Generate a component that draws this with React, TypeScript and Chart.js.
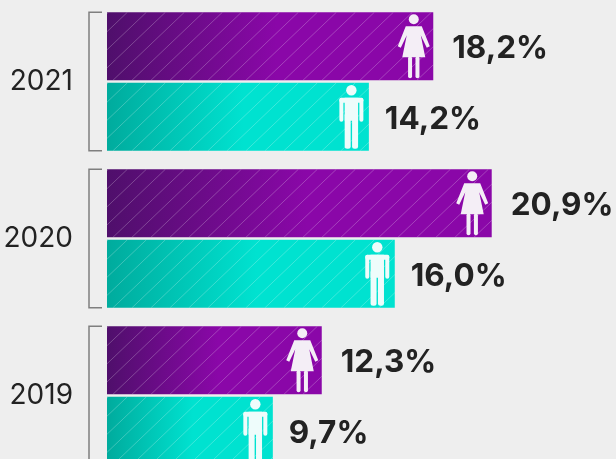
import React, { useEffect, useRef } from "react";
import { Chart, registerables } from "chart.js";

Chart.register(...registerables);

const years = ["2021", "2020", "2019"];
// The picture's bars are not strictly proportional to their printed labels,
// so bar lengths are read from the picture and the printed labels kept apart.
const womenBars = [18.14, 21.39, 11.94];
const menBars = [14.56, 16.0, 9.22];
const womenLabels = ["18,2%", "20,9%", "12,3%"];
const menLabels = ["14,2%", "16,0%", "9,7%"];

const FONT = "Inter";
const INK = "#222222";
const PAPER = "#eeeeee";

function gradientFor(ctx: any, from: string, to: string) {
  const { chart } = ctx;
  const area = chart.chartArea;
  if (!area) return to;
  const end = chart.scales.x.getPixelForValue(ctx.raw ?? 0);
  const g = chart.ctx.createLinearGradient(area.left, 0, end, 0);
  g.addColorStop(0, from);
  g.addColorStop(0.52, to);
  g.addColorStop(1, to);
  return g;
}

function rr(c: CanvasRenderingContext2D, x: number, y: number, w: number, h: number, r: number) {
  c.beginPath();
  c.roundRect(x, y, w, h, r);
  c.fill();
}

function drawWoman(c: CanvasRenderingContext2D, cx: number, top: number) {
  c.fillStyle = "#f4eef6";
  c.beginPath();
  c.arc(cx, top + 7, 5, 0, Math.PI * 2);
  c.fill();
  c.beginPath();
  c.moveTo(cx - 8, top + 14);
  c.lineTo(cx + 8, top + 14);
  c.lineTo(cx + 16, top + 34);
  c.lineTo(cx + 13, top + 35.5);
  c.lineTo(cx + 7, top + 23);
  c.lineTo(cx + 11.5, top + 45);
  c.lineTo(cx - 11.5, top + 45);
  c.lineTo(cx - 7, top + 23);
  c.lineTo(cx - 13, top + 35.5);
  c.lineTo(cx - 16, top + 34);
  c.closePath();
  c.fill();
  rr(c, cx - 5.7, top + 44, 4, 22, 2);
  rr(c, cx + 1.7, top + 44, 4, 22, 2);
}

function drawMan(c: CanvasRenderingContext2D, cx: number, top: number) {
  c.fillStyle = "#eefcfb";
  c.beginPath();
  c.arc(cx, top + 7.5, 5.2, 0, Math.PI * 2);
  c.fill();
  rr(c, cx - 12, top + 15, 24, 5, 3);
  rr(c, cx - 12, top + 15, 4, 24, 2);
  rr(c, cx + 8, top + 15, 4, 24, 2);
  c.fillRect(cx - 6.7, top + 15, 13.4, 23);
  rr(c, cx - 6.7, top + 30, 6, 36, 2.5);
  rr(c, cx + 0.7, top + 30, 6, 36, 2.5);
}

const decorations = {
  id: "decorations",
  afterDatasetsDraw(chart: any) {
    const c: CanvasRenderingContext2D = chart.ctx;
    const area = chart.chartArea;
    [0, 1].forEach((di) => {
      const meta = chart.getDatasetMeta(di);
      meta.data.forEach((bar: any, i: number) => {
        const top = bar.y - bar.height / 2;
        const bottom = bar.y + bar.height / 2;
        c.save();
        c.beginPath();
        c.rect(area.left, top, bar.x - area.left, bar.height);
        c.clip();
        c.strokeStyle = "rgba(255,255,255,0.24)";
        c.lineWidth = 1;
        const h = bar.height;
        for (let x = area.left - 70; x < bar.x + 80; x += 19) {
          c.beginPath();
          c.moveTo(x, bottom);
          c.lineTo(x + h * 1.05, top);
          c.stroke();
        }
        c.restore();
        if (di === 0) drawWoman(c, bar.x - 19.5, top);
        else drawMan(c, bar.x - 17.5, top);
        c.fillStyle = INK;
        c.font = `700 31.5px ${FONT}`;
        c.textAlign = "left";
        c.textBaseline = "middle";
        const text = di === 0 ? womenLabels[i] : menLabels[i];
        c.fillText(text, bar.x + (di === 0 ? 19 : 16), bar.y + 2.5);
      });
    });
    const w = chart.getDatasetMeta(0).data;
    const m = chart.getDatasetMeta(1).data;
    c.save();
    c.strokeStyle = "#7f7f7f";
    c.lineWidth = 1.5;
    w.forEach((bar: any, i: number) => {
      const t = bar.y - bar.height / 2;
      const b = m[i].y + m[i].height / 2;
      c.beginPath();
      c.moveTo(102, t);
      c.lineTo(89, t);
      c.lineTo(89, b);
      c.lineTo(102, b);
      c.stroke();
    });
    c.restore();
  },
};

export default function App() {
  const ref = useRef<HTMLCanvasElement>(null);
  useEffect(() => {
    document.body.style.margin = "0";
    document.body.style.background = PAPER;
    const chart = new Chart(ref.current!, {
      type: "bar",
      data: {
        labels: years,
        datasets: [
          {
            label: "Mujeres",
            data: womenBars,
            backgroundColor: (ctx: any) => gradientFor(ctx, "#4f0f6b", "#8a07a8"),
            categoryPercentage: 0.898,
            barPercentage: 0.9645,
          },
          {
            label: "Hombres",
            data: menBars,
            backgroundColor: (ctx: any) => gradientFor(ctx, "#00ab9d", "#00e2d0"),
            categoryPercentage: 0.898,
            barPercentage: 0.9645,
          },
        ],
      },
      options: {
        indexAxis: "y",
        animation: false,
        responsive: false,
        layout: { padding: { top: 3, bottom: 6, left: 0, right: 0 } },
        plugins: { legend: { display: false }, tooltip: { enabled: false }, title: { display: false } },
        scales: {
          x: { display: false, min: 0, max: 28.3 },
          y: {
            grid: { display: false, drawTicks: false },
            border: { display: false },
            afterFit(s: any) {
              s.width = 107;
              s.paddingTop = 0;
              s.paddingBottom = 0;
            },
            ticks: {
              color: INK,
              padding: 34,
              font: { family: FONT, size: 28, weight: "400" },
            },
          },
        },
      },
      plugins: [decorations],
    } as any);
    return () => chart.destroy();
  }, []);
  return (
    <div style={{ position: "absolute", left: 0, top: 0, width: 616, height: 459, overflow: "hidden", background: PAPER }}>
      <canvas ref={ref} width={616} height={480} style={{ display: "block", width: 616, height: 480 }} />
    </div>
  );
}
